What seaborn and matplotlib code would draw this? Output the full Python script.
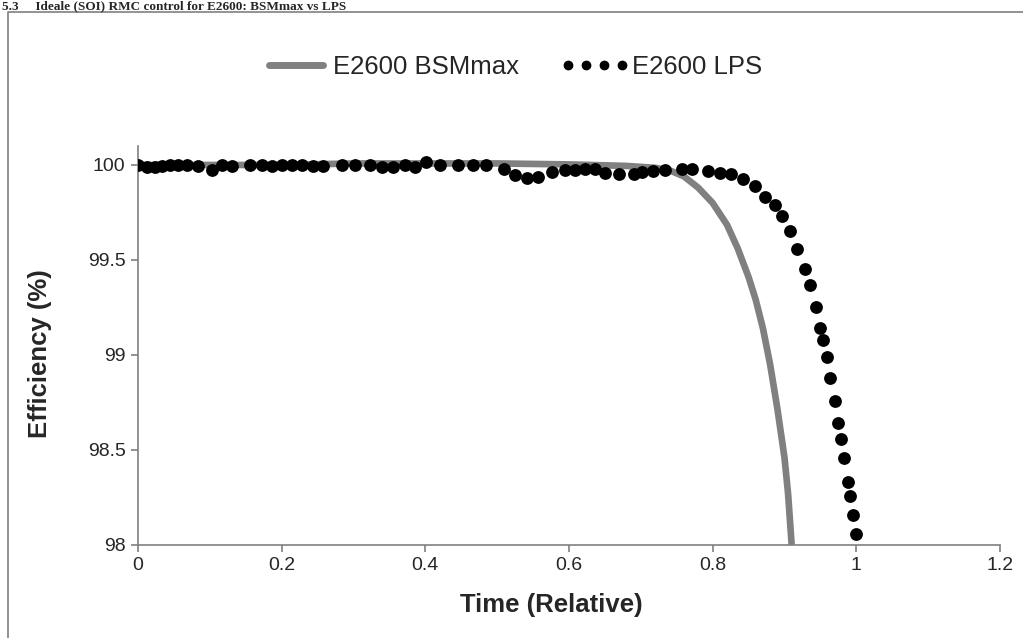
#!/usr/bin/env python3

import matplotlib

matplotlib.use("Agg")

import matplotlib.pyplot as plt
import numpy as np
import pandas as pd
import seaborn as sns

from matplotlib import rcParams
from matplotlib.lines import Line2D

# values
bsm_time = [0.0, 0.2, 0.3, 0.5, 0.6, 0.68, 0.72, 0.74, 0.76, 0.78, 0.80,
            0.82, 0.835, 0.85, 0.86, 0.87, 0.88, 0.89, 0.90, 0.905, 0.910]
bsm_eff = [100.0, 100.0, 100.008, 100.008, 100.003, 99.995, 99.985, 99.972,
           99.94, 99.88, 99.80, 99.685, 99.56, 99.41, 99.29, 99.14, 98.95,
           98.72, 98.46, 98.27, 98.0]

lps_time = [0.0, 0.012, 0.024, 0.033, 0.045, 0.056, 0.068, 0.084, 0.103,
            0.117, 0.131, 0.156, 0.172, 0.186, 0.200, 0.214, 0.228, 0.244,
            0.258, 0.284, 0.302, 0.323, 0.339, 0.355, 0.372, 0.386, 0.401,
            0.421, 0.446, 0.466, 0.485, 0.509, 0.525, 0.541, 0.557, 0.576,
            0.594, 0.608, 0.622, 0.636, 0.650, 0.670, 0.690, 0.701, 0.717,
            0.734, 0.757, 0.771, 0.794, 0.810, 0.826, 0.842, 0.859, 0.873,
            0.887, 0.897, 0.908, 0.917, 0.928, 0.936, 0.944, 0.950, 0.954,
            0.959, 0.964, 0.970, 0.975, 0.979, 0.983, 0.988, 0.991, 0.995,
            0.999]
lps_eff = [100.0, 99.99, 99.99, 99.995, 100.0, 100.0, 100.0, 99.995, 99.975,
           100.0, 99.995, 100.0, 100.0, 99.995, 100.0, 100.0, 100.0, 99.995,
           99.995, 100.0, 100.0, 100.0, 99.99, 99.99, 100.0, 99.99, 100.015,
           100.0, 100.0, 100.0, 100.0, 99.98, 99.945, 99.93, 99.935, 99.965,
           99.975, 99.975, 99.98, 99.98, 99.96, 99.955, 99.955, 99.965, 99.97,
           99.975, 99.98, 99.978, 99.97, 99.96, 99.953, 99.925, 99.89, 99.83,
           99.79, 99.73, 99.65, 99.56, 99.45, 99.37, 99.25, 99.14, 99.08,
           98.99, 98.88, 98.76, 98.64, 98.56, 98.46, 98.33, 98.26, 98.16,
           98.06]

x_ticks = [0, 0.2, 0.4, 0.6, 0.8, 1, 1.2]
x_tick_labels = ["0", "0.2", "0.4", "0.6", "0.8", "1", "1.2"]
y_ticks = [98, 98.5, 99, 99.5, 100]
y_tick_labels = ["98", "98.5", "99", "99.5", "100"]

sns.set_style("white")
rcParams["font.family"] = ["Liberation Sans", "DejaVu Sans"]

bsm = pd.DataFrame({"time": bsm_time, "eff": bsm_eff})
lps = pd.DataFrame({"time": lps_time, "eff": lps_eff})

fig = plt.figure(figsize=(10.23, 6.38), dpi=100)
ax = fig.add_axes([0.1349, 0.1458, 0.8426, 0.6254])

grey = "#808080"
sns.lineplot(data=bsm, x="time", y="eff", ax=ax, color=grey, lw=4.8,
             solid_capstyle="butt", solid_joinstyle="round", sort=False)
sns.scatterplot(data=lps, x="time", y="eff", ax=ax, color="black", s=85,
                linewidth=0, zorder=3)

ax.set_xlim(0, 1.2)
ax.set_ylim(98, 100.1)
ax.set_xticks(x_ticks)
ax.set_xticklabels(x_tick_labels, fontsize=14)
ax.set_yticks(y_ticks)
ax.set_yticklabels(y_tick_labels, fontsize=14)

for side in ["top", "right"]:
    ax.spines[side].set_visible(False)
for side in ["left", "bottom"]:
    ax.spines[side].set_color(grey)
    ax.spines[side].set_linewidth(1.2)
ax.tick_params(axis="both", direction="out", length=5, width=1.2,
               color=grey, pad=4, bottom=True, left=True)

ax.set_xlabel("Time (Relative)", fontsize=18.5, fontweight="bold")
ax.set_ylabel("Efficiency (%)", fontsize=18.5, fontweight="bold")
ax.xaxis.set_label_coords(0.48, -0.12)
ax.yaxis.set_label_coords(-0.1, 0.48)

handles = [
    Line2D([], [], color=grey, lw=5, solid_capstyle="round"),
    Line2D([], [], color="black", ls="none", marker="o", markersize=6),
]
fig.legend(handles, ["E2600 BSMmax", "E2600 LPS"], loc="center",
           bbox_to_anchor=(0.5, 0.895), ncol=2, frameon=False,
           fontsize=18.5, numpoints=4, handlelength=2.7,
           handletextpad=0.1, columnspacing=1.6)

# chart area border and the page caption above it
fig.add_artist(Line2D([0.008, 0.008, 1.0], [0.0, 0.981, 0.981],
                      transform=fig.transFigure, color=grey, lw=1.2))
fig.text(0.002, 0.999, "5.3     Ideale (SOI) RMC control for E2600: BSMmax vs LPS",
         fontsize=9.5, fontweight="bold", family="Liberation Serif",
         va="top", ha="left")

plt.savefig("out.png", dpi=100)
